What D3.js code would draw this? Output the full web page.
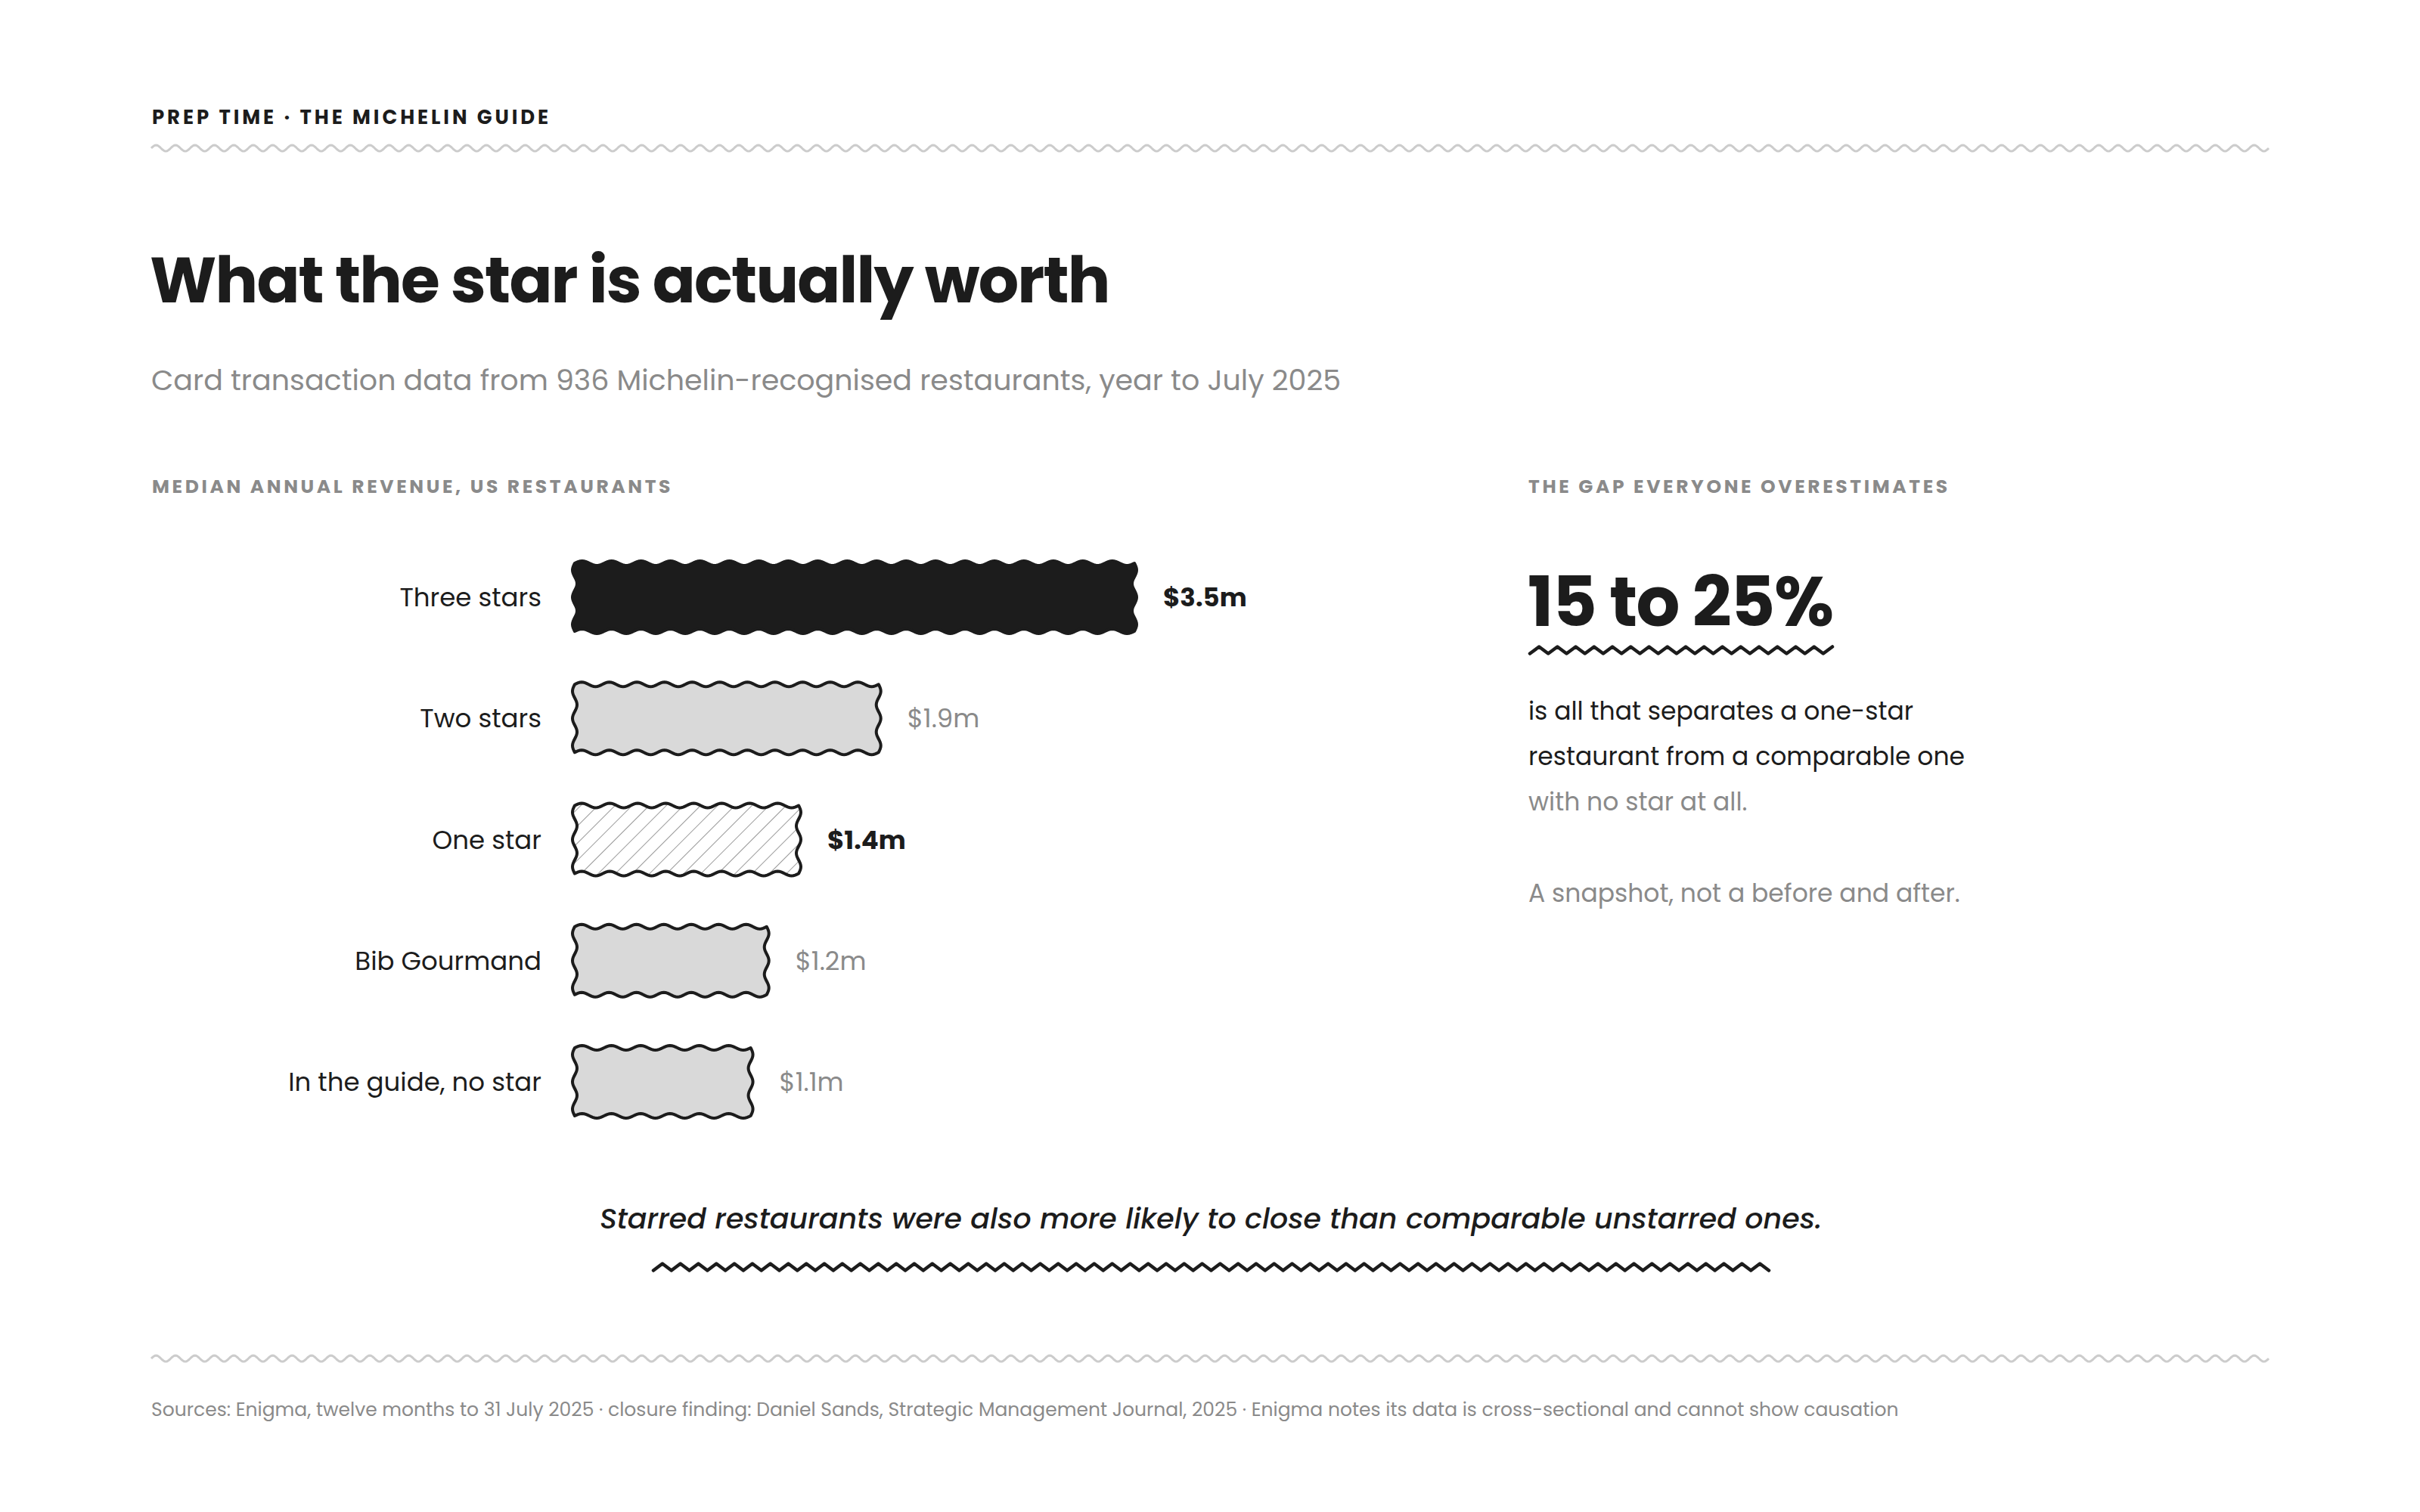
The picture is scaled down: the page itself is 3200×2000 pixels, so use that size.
<!DOCTYPE html>
<html lang="en">
<head>
    <meta charset="UTF-8">
    <title>What the star is actually worth</title>
    <script src="https://d3js.org/d3.v7.min.js"></script>
    <style>
        body {
            margin: 0;
            background: #fff;
            overflow: hidden;
        }
        svg text {
            font-family: "Poppins", "Inter", sans-serif;
        }
    </style>
</head>
<body>
    <script>
        // chart data
        const tiers = ["Three stars", "Two stars", "One star", "Bib Gourmand", "In the guide, no star"];
        const revenue = [3.5, 1.9, 1.4, 1.2, 1.1];      // median annual revenue, $m
        const valueLabels = ["$3.5m", "$1.9m", "$1.4m", "$1.2m", "$1.1m"];
        const gapLines = ["is all that separates a one-star", "restaurant from a comparable one", "with no star at all."];

        const ink = "#1c1c1c";
        const grey = "#8a8a8a";
        // bar look per tier (index matches tiers)
        const barFill = [ink, "#d9d9d9", "url(#hatch)", "#d9d9d9", "#d9d9d9"];
        const labelStrong = [true, false, true, false, false];

        const W = 3200, H = 2000;
        const svg = d3.select("body").append("svg")
            .attr("width", W)
            .attr("height", H);

        const defs = svg.append("defs");
        const hatch = defs.append("pattern")
            .attr("id", "hatch")
            .attr("patternUnits", "userSpaceOnUse")
            .attr("width", 16)
            .attr("height", 16)
            .attr("patternTransform", "rotate(45)");
        hatch.append("rect").attr("width", 16).attr("height", 16).attr("fill", "#fff");
        hatch.append("line")
            .attr("x1", 0).attr("y1", 0).attr("x2", 0).attr("y2", 16)
            .attr("stroke", "#9a9a9a")
            .attr("stroke-width", 2);

        // sine line from x0 to x1 around y, whole number of periods
        function sineLine(x0, x1, y, amp, period) {
            const n = Math.max(1, Math.round((x1 - x0) / period));
            const p = (x1 - x0) / n;
            return d3.range(0, n * 16 + 1).map(i => {
                const x = x0 + i * p / 16;
                return [x, y - amp * Math.sin(2 * Math.PI * (x - x0) / p)];
            });
        }

        // zigzag line (triangle wave) with points at the tips
        function zigzag(x0, x1, y, amp, period) {
            const n = Math.round((x1 - x0) / (period / 2));
            const p = (x1 - x0) / n;
            return d3.range(0, n + 1).map(i => [x0 + i * p, y + (i % 2 ? -amp : amp)]);
        }

        // rectangle with wavy edges
        function wavyRect(x0, x1, y0, y1) {
            const amp = 3, period = 38;
            const sideAmp = 3, sidePeriods = 2.5;
            const top = sineLine(x0, x1, y0, amp, period);
            const bottom = sineLine(x0, x1, y1, amp, period).reverse();
            const h = y1 - y0;
            const right = d3.range(1, 40).map(i => {
                const y = y0 + h * i / 40;
                return [x1 + sideAmp * Math.sin(2 * Math.PI * sidePeriods * i / 40), y];
            });
            const left = d3.range(1, 40).map(i => {
                const y = y1 - h * i / 40;
                return [x0 - sideAmp * Math.sin(2 * Math.PI * sidePeriods * i / 40), y];
            });
            return d3.line()(top.concat(right, bottom, left)) + "Z";
        }

        const line = d3.line();

        // header
        svg.append("text")
            .attr("x", 201).attr("y", 164)
            .attr("font-size", 26)
            .attr("font-weight", 700)
            .attr("letter-spacing", "3.9px")
            .attr("fill", ink)
            .text("PREP TIME · THE MICHELIN GUIDE");

        svg.append("path")
            .attr("d", line(sineLine(200, 3000, 196, 4, 25.6)))
            .attr("fill", "none")
            .attr("stroke", "#cccccc")
            .attr("stroke-width", 3);

        svg.append("text")
            .attr("x", 198).attr("y", 400)
            .attr("font-size", 84)
            .attr("font-weight", 700)
            .attr("letter-spacing", "-1.8px")
            .attr("fill", ink)
            .text("What the star is actually worth");

        svg.append("text")
            .attr("x", 200).attr("y", 516)
            .attr("font-size", 38)
            .attr("fill", grey)
            .text("Card transaction data from 936 Michelin-recognised restaurants, year to July 2025");

        // section labels
        svg.append("text")
            .attr("x", 201).attr("y", 652)
            .attr("font-size", 25)
            .attr("font-weight", 700)
            .attr("letter-spacing", "3.6px")
            .attr("fill", grey)
            .text("MEDIAN ANNUAL REVENUE, US RESTAURANTS");

        svg.append("text")
            .attr("x", 2021).attr("y", 652)
            .attr("font-size", 25)
            .attr("font-weight", 700)
            .attr("letter-spacing", "3.6px")
            .attr("fill", grey)
            .text("THE GAP EVERYONE OVERESTIMATES");

        // bars
        const x = d3.scaleLinear().domain([0, 3.5]).range([760, 1500]);
        const y = d3.scalePoint().domain(tiers).range([790, 1431]);
        const barH = 90;

        const rows = svg.append("g").selectAll("g")
            .data(tiers)
            .join("g");

        rows.append("path")
            .attr("d", (d, i) => wavyRect(x(0), x(revenue[i]), y(d) - barH / 2, y(d) + barH / 2))
            .attr("fill", (d, i) => barFill[i])
            .attr("stroke", ink)
            .attr("stroke-width", 4)
            .attr("stroke-linejoin", "round");

        rows.append("text")
            .attr("x", 716)
            .attr("y", d => y(d) + 12)
            .attr("text-anchor", "end")
            .attr("font-size", 34)
            .attr("fill", ink)
            .text(d => d);

        rows.append("text")
            .attr("x", (d, i) => x(revenue[i]) + 38)
            .attr("y", d => y(d) + 12)
            .attr("font-size", 34)
            .attr("font-weight", (d, i) => labelStrong[i] ? 700 : 400)
            .attr("fill", (d, i) => labelStrong[i] ? ink : grey)
            .text((d, i) => valueLabels[i]);

        // right panel
        svg.append("text")
            .attr("x", 2020).attr("y", 828)
            .attr("font-size", 91)
            .attr("font-weight", 700)
            .attr("letter-spacing", "-1.5px")
            .attr("fill", ink)
            .text("15 to 25%");

        svg.append("path")
            .attr("d", line(zigzag(2023, 2423, 860, 4.5, 24)))
            .attr("fill", "none")
            .attr("stroke", ink)
            .attr("stroke-width", 4.5)
            .attr("stroke-linejoin", "round")
            .attr("stroke-linecap", "round");

        svg.append("g").selectAll("text")
            .data(gapLines)
            .join("text")
            .attr("x", 2021)
            .attr("y", (d, i) => 952 + i * 60)
            .attr("font-size", 33)
            .attr("fill", (d, i) => i < 2 ? ink : grey)
            .text(d => d);

        svg.append("text")
            .attr("x", 2021).attr("y", 1193)
            .attr("font-size", 33)
            .attr("fill", grey)
            .text("A snapshot, not a before and after.");

        // closing line
        svg.append("text")
            .attr("x", 1601).attr("y", 1625)
            .attr("text-anchor", "middle")
            .attr("font-size", 38)
            .attr("font-style", "italic")
            .attr("font-weight", 500)
            .attr("fill", ink)
            .text("Starred restaurants were also more likely to close than comparable unstarred ones.");

        svg.append("path")
            .attr("d", line(zigzag(864, 2339, 1676, 4.5, 23.7)))
            .attr("fill", "none")
            .attr("stroke", ink)
            .attr("stroke-width", 4.5)
            .attr("stroke-linejoin", "round")
            .attr("stroke-linecap", "round");

        // footer
        svg.append("path")
            .attr("d", line(sineLine(200, 3000, 1797, 4, 25.6)))
            .attr("fill", "none")
            .attr("stroke", "#cccccc")
            .attr("stroke-width", 3);

        svg.append("text")
            .attr("x", 200).attr("y", 1873)
            .attr("font-size", 25)
            .attr("fill", grey)
            .text("Sources: Enigma, twelve months to 31 July 2025 · closure finding: Daniel Sands, Strategic Management Journal, 2025 · Enigma notes its data is cross-sectional and cannot show causation");
    </script>
</body>
</html>
